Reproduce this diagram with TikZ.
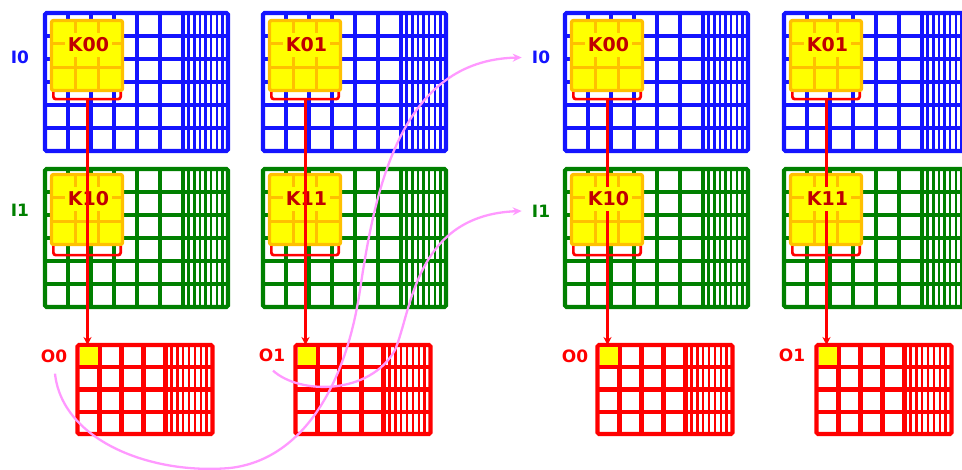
\documentclass[tikz,border=0pt]{standalone}
\usepackage{fontspec}
\setmainfont{DejaVu Sans}
\usetikzlibrary{arrows.meta,calc}
\definecolor{iblue}{RGB}{20,20,255}
\definecolor{igreen}{RGB}{0,128,0}
\definecolor{ored}{RGB}{255,0,0}
\definecolor{kyellow}{RGB}{255,255,0}
\definecolor{korange}{RGB}{255,192,0}
\definecolor{ktext}{RGB}{192,0,0}
\definecolor{pinkc}{RGB}{255,153,255}
% #1 x, #2 y, #3 W, #4 H, #5 coarse width, #6 coarse cols, #7 rows, #8 colour
\newcommand\gridlines[8]{%
  \foreach \i in {1,...,7} \draw[#8, fineline] ({#1+#5+\i*(#3-#5)/8},{#2}) -- ++(0,#4);
  \foreach \i in {1,...,#6} \draw[#8, gridline] ({#1+\i*#5/#6},{#2}) -- ++(0,#4);
  \pgfmathtruncatemacro\nrm{#7-1}%
  \foreach \j in {1,...,\nrm} \draw[#8, gridline] ({#1},{#2+\j*#4/#7}) -- ++(#3,0);
}
\begin{document}
\begin{tikzpicture}[x=1pt,y=-1pt,
  gridline/.style={line width=4.2pt},
  fineline/.style={line width=2.5pt},
  blockbox/.style={draw, line width=4.2pt, rounded corners=1.5pt, anchor=north west, inner sep=0pt, outer sep=0pt},
  iblock/.style={blockbox, minimum width=183pt, minimum height=138pt},
  oblock/.style={blockbox, draw=ored, minimum width=135pt, minimum height=89pt},
  ocell/.style={fill=kyellow, minimum size=18pt, inner sep=0pt},
  kbox/.style={draw=korange, fill=kyellow, line width=3.3pt, rounded corners=2pt,
    minimum width=71pt, minimum height=70pt, inner sep=0pt,
    path picture={\foreach \f in {0.3333,0.6667}{
      \draw[korange, line width=2.8pt]
        ($(path picture bounding box.north west)!\f!(path picture bounding box.north east)$) --
        ($(path picture bounding box.south west)!\f!(path picture bounding box.south east)$);
      \draw[korange, line width=2.8pt]
        ($(path picture bounding box.north west)!\f!(path picture bounding box.south west)$) --
        ($(path picture bounding box.north east)!\f!(path picture bounding box.south east)$);}}},
  klabel/.style={fill=kyellow, text=ktext, font=\fontsize{19}{19}\selectfont\bfseries, inner xsep=2.5pt, inner ysep=5pt},
  ilab/.style={font=\fontsize{17}{17}\selectfont\bfseries, inner sep=0pt},
  bracket/.style={draw=ored, line width=2.7pt, rounded corners=2.5pt},
  redarrow/.style={draw=ored, line width=2.7pt, -{Stealth[length=8pt,width=8pt]}},
  pinkarrow/.style={draw=pinkc, line width=2.3pt, -{Stealth[length=9pt,width=8pt]}}
]
\useasboundingbox (0,0) rectangle (962,470);
\clip (0,0) rectangle (962,470);

\foreach \X/\n in {45/a, 263/b, 565/c, 784/d}{
  \gridlines{\X}{13}{183}{138}{138}{6}{6}{iblue}
  \node[iblock, draw=iblue] (I0\n) at ({\X},13) {};
  \gridlines{\X}{169}{183}{138}{138}{6}{6}{igreen}
  \node[iblock, draw=igreen] (I1\n) at ({\X},169) {};
  \gridlines{\X+32.5}{345}{135}{89}{88}{4}{4}{ored}
  \node[oblock] (O\n) at ({\X+32.5},345) {};
  \node[ocell] (Y\n) at ({\X+43.5},356.1) {};
  \node[kbox] (KA\n) at ({\X+42},55.5) {};
  \coordinate (SA\n) at ($(KA\n.south)+(0.5,7)$);
  \draw[bracket] ($(KA\n.south west)+(3.5,0)$) |- (SA\n) -| ($(KA\n.south east)+(-3.5,0)$);
  \node[kbox] (KB\n) at ({\X+42},209.5) {};
  \coordinate (SB\n) at ($(KB\n.south)+(0.5,9)$);
  \draw[bracket] ($(KB\n.south west)+(3.5,0)$) |- (SB\n) -| ($(KB\n.south east)+(-3.5,0)$);
}

% left half: red arrow drawn over the labels
\foreach \n/\ka/\kb in {a/K00/K10, b/K01/K11}{
  \node[klabel] (TA\n) at ($(KA\n.center)+(1.5,-10.5)$) {\ka};
  \node[klabel] (TB\n) at ($(KB\n.center)+(1.5,-10.5)$) {\kb};
  \draw[redarrow] (SA\n) -- (SA\n |- O\n.north);
}
% right half: labels drawn over the red arrow
\foreach \n/\ka/\kb in {c/K00/K10, d/K01/K11}{
  \draw[redarrow] (SA\n) -- (SA\n |- O\n.north);
  \node[klabel] (TA\n) at ($(KA\n.center)+(1.5,-10.5)$) {\ka};
  \node[klabel] (TB\n) at ($(KB\n.center)+(1.5,-10.5)$) {\kb};
}

\node[ilab, text=iblue] (i0a) at (20,57.5) {I0};
\node[ilab, text=igreen] (i1a) at (20,210) {I1};
\node[ilab, text=iblue] (i0c) at (541,57.5) {I0};
\node[ilab, text=igreen] (i1c) at (541,211) {I1};
\node[ilab, text=ored] (loa) at (54,356) {O0};
\node[ilab, text=ored] (lob) at (272,355) {O1};
\node[ilab, text=ored] (loc) at (575,356) {O0};
\node[ilab, text=ored] (lod) at (792,355) {O1};

\draw[pinkarrow] ($(loa.south)+(1,11)$) .. controls (62,440) and (150,475) .. (230,468)
  .. controls (300,460) and (345,390) .. (360,290)
  .. controls (375,190) and (400,60) .. ($(i0c.west)+(-10,0)$);
\draw[pinkarrow] ($(lob.south)+(1,9)$) .. controls (300,395) and (370,395) .. (395,350)
  .. controls (412,310) and (415,215) .. ($(i1c.west)+(-10,0)$);
\end{tikzpicture}
\end{document}
